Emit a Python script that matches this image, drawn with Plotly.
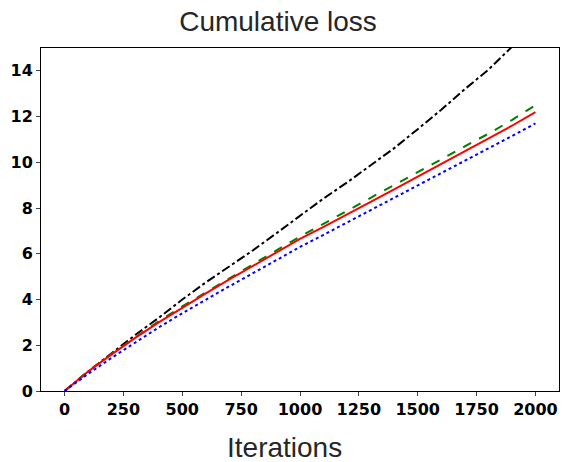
import plotly.graph_objects as go

iterations = [0, 100, 200, 300, 400, 500, 600, 700, 800, 900, 1000,
              1100, 1200, 1300, 1400, 1500, 1600, 1700, 1800, 1900, 2000]
loss_black = [0, 0.85, 1.65, 2.45, 3.2, 4.0, 4.75, 5.45, 6.15, 6.9, 7.68,
              8.42, 9.12, 9.85, 10.62, 11.45, 12.3, 13.2, 14.05, 15.05, 15.9]
loss_green = [0, 0.87, 1.63, 2.35, 3.05, 3.7, 4.32, 4.93, 5.55, 6.15, 6.75,
              7.3, 7.88, 8.45, 9.0, 9.57, 10.13, 10.7, 11.25, 11.85, 12.5]
loss_red = [0, 0.85, 1.6, 2.32, 3.0, 3.65, 4.27, 4.88, 5.48, 6.07, 6.65,
            7.18, 7.72, 8.27, 8.82, 9.38, 9.93, 10.5, 11.05, 11.6, 12.2]
loss_blue = [0, 0.75, 1.45, 2.12, 2.78, 3.4, 4.0, 4.58, 5.15, 5.73, 6.3,
             6.83, 7.37, 7.9, 8.43, 8.97, 9.5, 10.05, 10.6, 11.15, 11.7]
x_ticks = [0, 250, 500, 750, 1000, 1250, 1500, 1750, 2000]
y_ticks = [0, 2, 4, 6, 8, 10, 12, 14]

fig = go.Figure()
for ys, color, dash in [(loss_black, "black", "dashdot"),
                        (loss_green, "green", "dash"),
                        (loss_red, "red", "solid"),
                        (loss_blue, "blue", "dot")]:
    fig.add_trace(go.Scatter(x=iterations, y=ys, mode="lines",
                             line=dict(color=color, dash=dash, width=2),
                             showlegend=False))

W, H = 563, 462
L, R, T, B = 41, 4, 48, 71
fig.update_layout(
    width=W, height=H,
    margin=dict(l=L, r=R, t=T, b=B, autoexpand=False),
    paper_bgcolor="white", plot_bgcolor="white",
    title=dict(text="Cumulative loss", xref="container", x=278 / W, xanchor="center",
               yref="container", y=1 - 21 / H, yanchor="middle",
               font=dict(family="Liberation Sans", size=28, color="#262626")),
    font=dict(family="DejaVu Sans", color="black"),
    annotations=[dict(text="Iterations", xref="paper", yref="paper",
                      x=(284 - L) / (W - L - R), y=-(447 - (H - B)) / (H - T - B),
                      xanchor="center", yanchor="middle", showarrow=False,
                      font=dict(family="Liberation Sans", size=28, color="#262626"))],
)
tickfont = dict(family="DejaVu Sans", size=16, weight="bold", color="black")
fig.update_xaxes(range=[-100, 2100], tickvals=x_ticks, ticks="outside", ticklen=4,
                 tickfont=tickfont, automargin=False,
                 showline=True, linecolor="black", linewidth=1, mirror=True, showgrid=False,
                 zeroline=False)
fig.update_yaxes(range=[0, 15], tickvals=y_ticks, ticks="outside", ticklen=4,
                 tickfont=tickfont, automargin=False,
                 showline=True, linecolor="black", linewidth=1, mirror=True, showgrid=False,
                 zeroline=False)

fig.write_html("out.html", config={"displayModeBar": False},
               post_script="document.body.style.margin='0px';document.body.style.overflow='hidden';")
